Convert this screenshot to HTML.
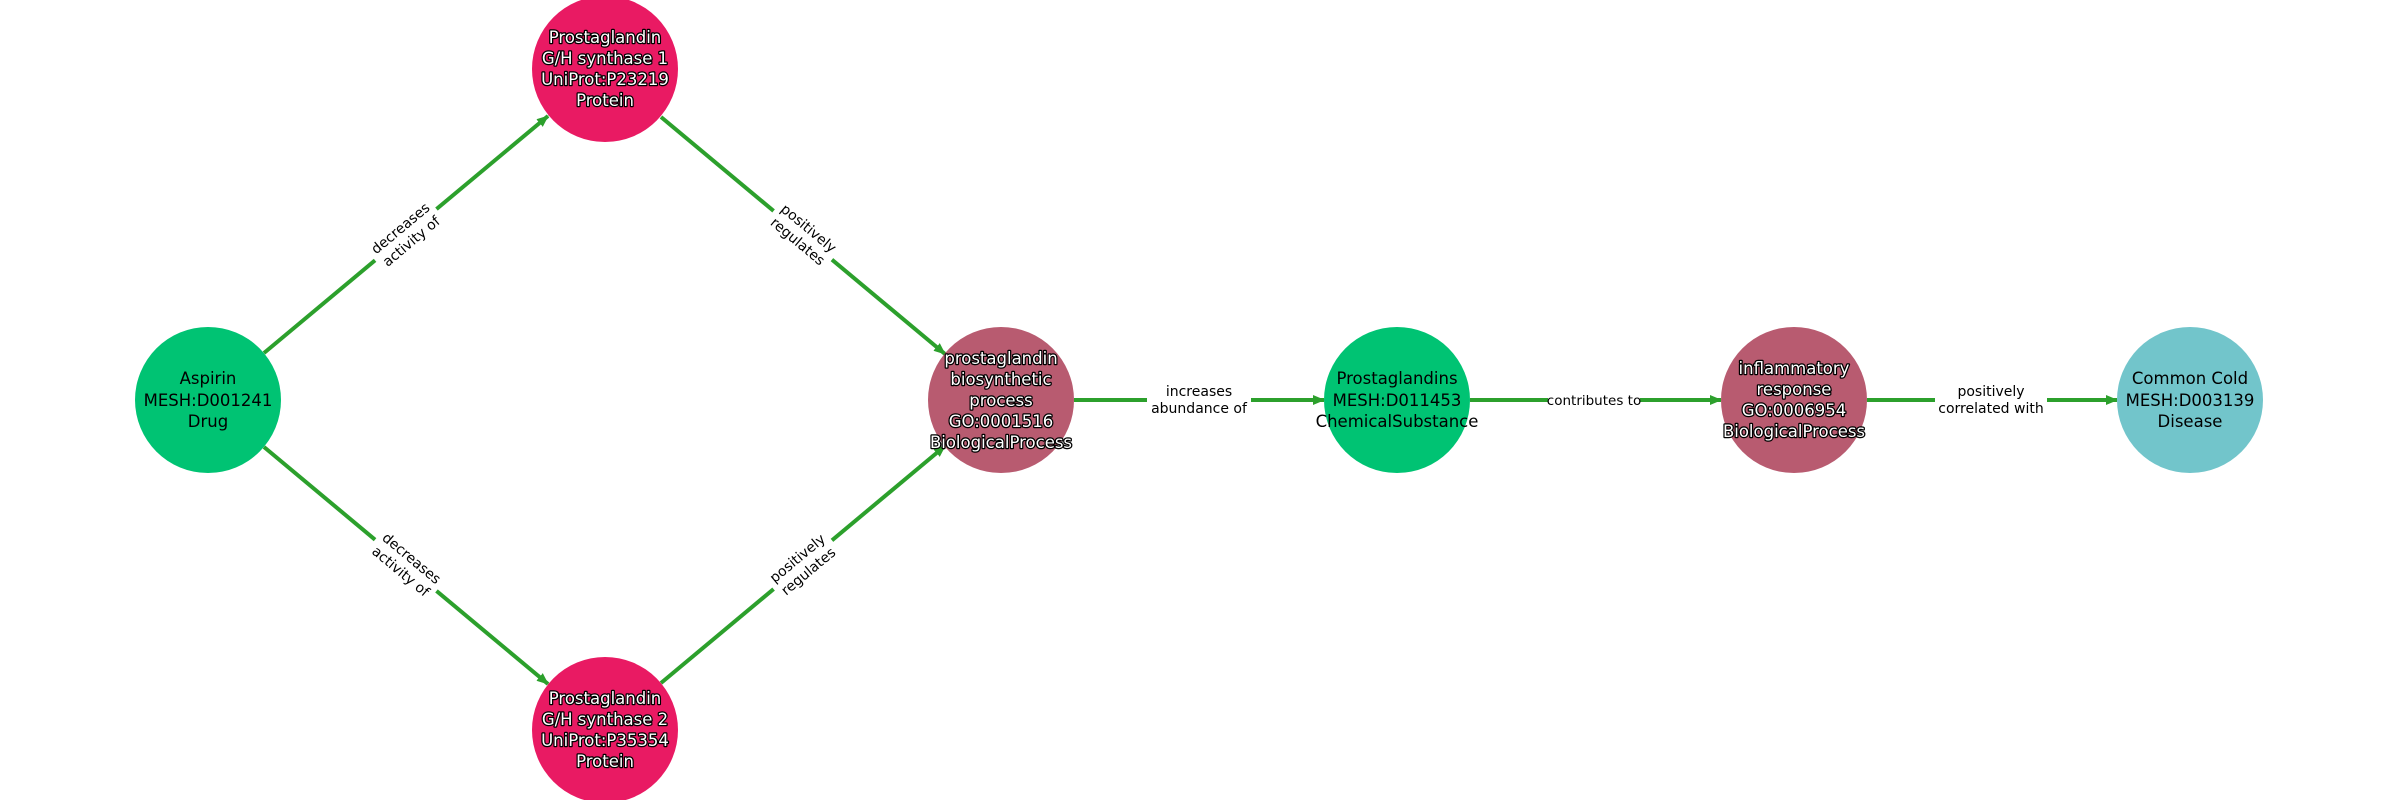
<!DOCTYPE html>
<html><head><meta charset="utf-8"><style>
html,body{margin:0;padding:0;background:#fff;}
svg{display:block;}
.n{font-family:"DejaVu Sans","Liberation Sans",sans-serif;font-size:16.5px;text-anchor:middle;}
.w{fill:#fff;stroke:#000;stroke-width:2.5px;paint-order:stroke;stroke-linejoin:round;}
.b{fill:#000;}
.e{font-family:"DejaVu Sans","Liberation Sans",sans-serif;font-size:14px;text-anchor:middle;fill:#000;}
.l{stroke:#2ca02c;stroke-width:4;fill:none;}
</style></head><body>
<svg width="2400" height="800" viewBox="0 0 2400 800" xmlns="http://www.w3.org/2000/svg">
<defs>
<marker id="a" markerWidth="14" markerHeight="14" refX="11" refY="6" orient="auto" markerUnits="userSpaceOnUse">
<path d="M0,1 L12,6 L0,11 z" fill="#2ca02c"/>
</marker>
</defs>
<line class="l" x1="264" y1="353" x2="548" y2="116" marker-end="url(#a)"/>
<line class="l" x1="264" y1="447" x2="548" y2="684" marker-end="url(#a)"/>
<line class="l" x1="661" y1="117" x2="945" y2="354" marker-end="url(#a)"/>
<line class="l" x1="661" y1="683" x2="945" y2="446" marker-end="url(#a)"/>
<line class="l" x1="1074" y1="400" x2="1324" y2="400" marker-end="url(#a)"/>
<line class="l" x1="1470" y1="400" x2="1721" y2="400" marker-end="url(#a)"/>
<line class="l" x1="1867" y1="400" x2="2117" y2="400" marker-end="url(#a)"/>
<g transform="translate(406,235) rotate(-39.8)"><rect x="-40" y="-20" width="80" height="40" fill="#fff"/><text class="e" y="-4">decreases</text><text class="e" y="13">activity of</text></g>
<g transform="translate(406,565) rotate(39.8)"><rect x="-40" y="-20" width="80" height="40" fill="#fff"/><text class="e" y="-4">decreases</text><text class="e" y="13">activity of</text></g>
<g transform="translate(803,235) rotate(39.8)"><rect x="-38" y="-20" width="76" height="40" fill="#fff"/><text class="e" y="-4">positively</text><text class="e" y="13">regulates</text></g>
<g transform="translate(803,565) rotate(-39.8)"><rect x="-38" y="-20" width="76" height="40" fill="#fff"/><text class="e" y="-4">positively</text><text class="e" y="13">regulates</text></g>
<g transform="translate(1199,400)"><rect x="-52" y="-20" width="104" height="40" fill="#fff"/><text class="e" y="-4">increases</text><text class="e" y="13">abundance of</text></g>
<g transform="translate(1594,400)"><rect x="-46" y="-11" width="92" height="22" fill="#fff"/><text class="e" y="5" style="font-size:13.5px">contributes to</text></g>
<g transform="translate(1991,400)"><rect x="-56" y="-20" width="112" height="40" fill="#fff"/><text class="e" y="-4">positively</text><text class="e" y="13">correlated with</text></g>
<circle cx="208" cy="400" r="73" fill="#00c373"/>
<circle cx="605" cy="69" r="73" fill="#e91a63"/>
<circle cx="605" cy="730" r="73" fill="#e91a63"/>
<circle cx="1001" cy="400" r="73" fill="#b85b70"/>
<circle cx="1397" cy="400" r="73" fill="#00c373"/>
<circle cx="1794" cy="400" r="73" fill="#b85b70"/>
<circle cx="2190" cy="400" r="73" fill="#72c5cb"/>
<text class="n b" x="208" y="384">Aspirin</text>
<text class="n b" x="208" y="406">MESH:D001241</text>
<text class="n b" x="208" y="427">Drug</text>
<text class="n w" x="605" y="43">Prostaglandin</text>
<text class="n w" x="605" y="64">G/H synthase 1</text>
<text class="n w" x="605" y="85">UniProt:P23219</text>
<text class="n w" x="605" y="106">Protein</text>
<text class="n w" x="605" y="704">Prostaglandin</text>
<text class="n w" x="605" y="725">G/H synthase 2</text>
<text class="n w" x="605" y="746">UniProt:P35354</text>
<text class="n w" x="605" y="767">Protein</text>
<text class="n w" x="1001" y="364">prostaglandin</text>
<text class="n w" x="1001" y="385">biosynthetic</text>
<text class="n w" x="1001" y="406">process</text>
<text class="n w" x="1001" y="427">GO:0001516</text>
<text class="n w" x="1001" y="448">BiologicalProcess</text>
<text class="n b" x="1397" y="384">Prostaglandins</text>
<text class="n b" x="1397" y="406">MESH:D011453</text>
<text class="n b" x="1397" y="427">ChemicalSubstance</text>
<text class="n w" x="1794" y="374">inflammatory</text>
<text class="n w" x="1794" y="395">response</text>
<text class="n w" x="1794" y="416">GO:0006954</text>
<text class="n w" x="1794" y="437">BiologicalProcess</text>
<text class="n b" x="2190" y="384">Common Cold</text>
<text class="n b" x="2190" y="406">MESH:D003139</text>
<text class="n b" x="2190" y="427">Disease</text>
</svg>
</body></html>
